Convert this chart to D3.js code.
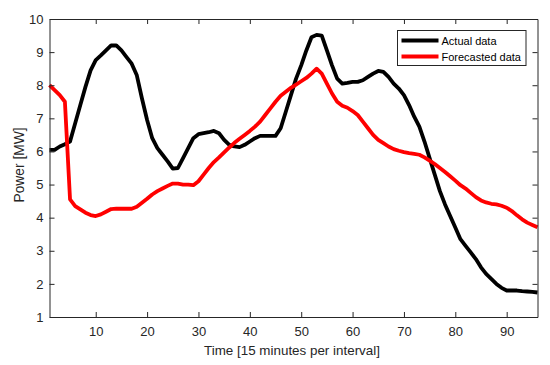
<!DOCTYPE html>
<html>
<head>
<meta charset="utf-8">
<script src="https://cdn.jsdelivr.net/npm/d3@7"></script>
<style>
  body { margin: 0; background: #fff; }
  text { font-family: "Liberation Sans", Arial, sans-serif; }
</style>
</head>
<body>
<svg width="550" height="365"></svg>
<script>
// time index (15 min intervals)
const timeSteps = d3.range(1, 97);

// actual power [MW]
const actualData = [
  6.05, 6.05, 6.15, 6.22, 6.3, 6.85, 7.4, 7.95, 8.45, 8.76,
  8.9, 9.05, 9.2, 9.2, 9.05, 8.85, 8.65, 8.3, 7.6, 6.95,
  6.4, 6.1, 5.9, 5.7, 5.48, 5.5, 5.8, 6.1, 6.4, 6.52,
  6.55, 6.58, 6.62, 6.55, 6.35, 6.2, 6.15, 6.13, 6.2, 6.3,
  6.4, 6.47, 6.47, 6.47, 6.47, 6.7, 7.2, 7.7, 8.2, 8.6,
  9.05, 9.45, 9.52, 9.5, 9.05, 8.6, 8.2, 8.05, 8.07, 8.1,
  8.1, 8.15, 8.25, 8.35, 8.43, 8.4, 8.25, 8.05, 7.9, 7.7,
  7.4, 7.05, 6.75, 6.3, 5.8, 5.3, 4.8, 4.4, 4.05, 3.7,
  3.35, 3.15, 2.95, 2.75, 2.5, 2.3, 2.15, 2.0, 1.88, 1.8,
  1.8, 1.8, 1.78, 1.77, 1.76, 1.74
];

// forecasted power [MW]
const forecastData = [
  8.0, 7.85, 7.7, 7.5, 4.55, 4.35, 4.25, 4.15, 4.08, 4.05,
  4.1, 4.18, 4.26, 4.27, 4.27, 4.27, 4.27, 4.33, 4.45, 4.57,
  4.7, 4.8, 4.88, 4.96, 5.03, 5.03, 5.0, 5.0, 4.98, 5.1,
  5.3, 5.5, 5.68, 5.82, 5.97, 6.12, 6.26, 6.38, 6.5, 6.62,
  6.75, 6.9, 7.1, 7.3, 7.5, 7.68, 7.8, 7.92, 8.02, 8.12,
  8.22, 8.35, 8.5, 8.35, 8.05, 7.75, 7.5, 7.38, 7.32, 7.22,
  7.1, 6.9, 6.7, 6.5, 6.35, 6.25, 6.15, 6.07, 6.02, 5.98,
  5.95, 5.93, 5.9, 5.82, 5.72, 5.62, 5.5, 5.38, 5.25, 5.12,
  4.98, 4.88, 4.75, 4.62, 4.52, 4.46, 4.42, 4.4, 4.36, 4.3,
  4.2, 4.07, 3.95, 3.85, 3.78, 3.71
];

const xTicks = [10, 20, 30, 40, 50, 60, 70, 80, 90];
const yTicks = [1, 2, 3, 4, 5, 6, 7, 8, 9, 10];
const seriesNames = ["Actual data", "Forecasted data"];
const seriesColors = ["#000000", "#ff0000"];

var svg = d3.select("svg");

var margin = { left: 49.5, right: 12.5, top: 19, bottom: 48 };
var width = 550 - margin.left - margin.right,
    height = 365 - margin.top - margin.bottom;

var x = d3.scaleLinear().domain([1, 96]).range([0, width]);
var y = d3.scaleLinear().domain([1, 10]).range([height, 0]);

var g = svg.append("g")
  .attr("transform", "translate(" + margin.left + "," + margin.top + ")");

// lines
var line = d3.line()
  .x((d, i) => x(timeSteps[i]))
  .y(d => y(d));

[actualData, forecastData].forEach((series, k) => {
  g.append("path")
    .datum(series)
    .attr("fill", "none")
    .attr("stroke", seriesColors[k])
    .attr("stroke-width", 3.8)
    .attr("stroke-linejoin", "round")
    .attr("d", line);
});

// axes, MATLAB style box with inward ticks
var axisColor = "#262626";
function styleAxis(sel) {
  sel.selectAll("path").attr("stroke", axisColor);
  sel.selectAll("line").attr("stroke", axisColor);
  sel.selectAll("text")
    .attr("fill", axisColor)
    .style("font-size", "13px");
}

g.append("g")
  .attr("transform", "translate(0," + height + ")")
  .call(d3.axisBottom(x).tickValues(xTicks).tickSizeInner(-5).tickSizeOuter(0).tickPadding(10))
  .call(styleAxis);

g.append("g")
  .call(d3.axisTop(x).tickValues(xTicks).tickSizeInner(-5).tickSizeOuter(0).tickFormat(""))
  .call(styleAxis);

g.append("g")
  .call(d3.axisLeft(y).tickValues(yTicks).tickSizeInner(-5).tickSizeOuter(0).tickPadding(6))
  .call(styleAxis);

g.append("g")
  .attr("transform", "translate(" + width + ",0)")
  .call(d3.axisRight(y).tickValues(yTicks).tickSizeInner(-5).tickSizeOuter(0).tickFormat(""))
  .call(styleAxis);

g.selectAll(".domain").attr("stroke-width", 1);

// axis labels
g.append("text")
  .attr("x", width / 2 - 1.5)
  .attr("y", height + 38)
  .attr("text-anchor", "middle")
  .attr("fill", axisColor)
  .style("font-size", "13.4px")
  .text("Time [15 minutes per interval]");

g.append("text")
  .attr("transform", "translate(" + (-25.5) + "," + (height / 2 - 3) + ") rotate(-90)")
  .attr("text-anchor", "middle")
  .attr("fill", axisColor)
  .style("font-size", "13.8px")
  .text("Power [MW]");

// legend
var legend = g.append("g")
  .attr("transform", "translate(" + (397.5 - margin.left) + "," + (30.5 - margin.top) + ")");

legend.append("rect")
  .attr("width", 128.5)
  .attr("height", 35)
  .attr("fill", "#fff")
  .attr("stroke", axisColor)
  .attr("stroke-width", 1);

seriesNames.forEach((name, i) => {
  var row = legend.append("g").attr("transform", "translate(0," + (10 + i * 16) + ")");
  row.append("line")
    .attr("x1", 4).attr("x2", 41)
    .attr("stroke", seriesColors[i])
    .attr("stroke-width", 3.8);
  row.append("text")
    .attr("x", 44)
    .attr("y", 4)
    .attr("fill", "#000")
    .style("font-size", "11px")
    .text(name);
});
</script>
</body>
</html>
